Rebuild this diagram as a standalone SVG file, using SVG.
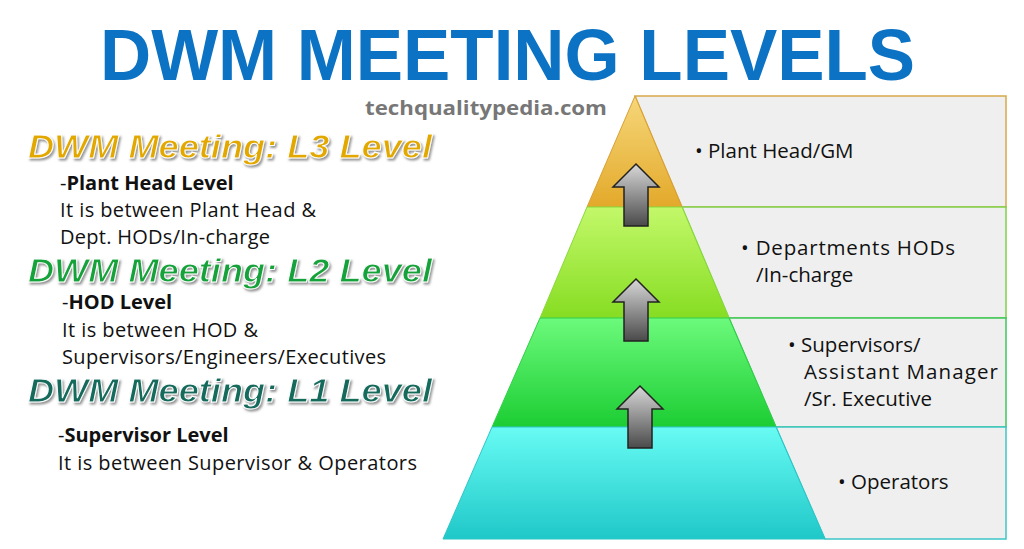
<svg xmlns="http://www.w3.org/2000/svg" width="1024" height="549" viewBox="0 0 1024 549">
<style>
.t{font-family:"Liberation Sans",Arial,sans-serif;font-weight:bold}
.h{font-family:"Liberation Sans",Arial,sans-serif;font-weight:bold;font-style:italic;font-size:34px;stroke:#fff;stroke-width:1;filter:url(#sh)}
.b{font-family:"Open Sans","Noto Sans",sans-serif;font-size:20px;fill:#111}
.r{font-family:"Open Sans","Noto Sans",sans-serif;font-size:20.5px;fill:#111}
.box{fill:#efefef}
</style>
<defs>
<filter id="sh" x="-5%" y="-20%" width="110%" height="150%"><feDropShadow dx="1.5" dy="2" stdDeviation="1.2" flood-color="#777" flood-opacity="0.8"/></filter>
<linearGradient id="g1" x1="0" y1="0" x2="0" y2="1"><stop offset="0" stop-color="#f6d77a"/><stop offset="1" stop-color="#e3a92a"/></linearGradient>
<linearGradient id="g2" x1="0" y1="0" x2="0" y2="1"><stop offset="0" stop-color="#c3f86a"/><stop offset="1" stop-color="#86dd22"/></linearGradient>
<linearGradient id="g3" x1="0" y1="0" x2="0" y2="1"><stop offset="0" stop-color="#6cfa7c"/><stop offset="1" stop-color="#1ccd33"/></linearGradient>
<linearGradient id="g4" x1="0" y1="0" x2="0" y2="1"><stop offset="0" stop-color="#68fbf4"/><stop offset="1" stop-color="#1fc8c8"/></linearGradient>
<linearGradient id="ga" x1="0" y1="0" x2="0" y2="1"><stop offset="0" stop-color="#d8d8d8"/><stop offset="1" stop-color="#4a4a4a"/></linearGradient>
<path id="arr" d="M0,0 L23,23 L12,23 L12,62 L-12,62 L-12,23 L-23,23 Z" fill="url(#ga)" stroke="#222" stroke-width="1.5"/>
</defs>
<rect width="1024" height="549" fill="#fff"/>
<text class="t" x="100" y="80" font-size="72" fill="#0b72c4" textLength="815" lengthAdjust="spacingAndGlyphs">DWM MEETING LEVELS</text>
<text x="365" y="115" font-family="'Open Sans','Noto Sans',sans-serif" font-weight="bold" font-size="20" fill="#777" textLength="242" lengthAdjust="spacingAndGlyphs">techqualitypedia.com</text>

<g id="level3-text">
<text class="h" x="28" y="158" fill="#e3a800" textLength="404" lengthAdjust="spacingAndGlyphs">DWM Meeting: L3 Level</text>
<text class="b" x="60" y="190">-<tspan font-weight="bold">Plant Head Level</tspan></text>
<text class="b" x="60" y="217" textLength="256">It is between Plant Head &amp;</text>
<text class="b" x="60" y="244" textLength="210">Dept. HODs/In-charge</text>
</g>
<g id="level2-text">
<text class="h" x="28" y="282" fill="#17a23a" textLength="404" lengthAdjust="spacingAndGlyphs">DWM Meeting: L2 Level</text>
<text class="b" x="62" y="309">-<tspan font-weight="bold">HOD Level</tspan></text>
<text class="b" x="62" y="337" textLength="196">It is between HOD &amp;</text>
<text class="b" x="62" y="364" textLength="324">Supervisors/Engineers/Executives</text>
</g>
<g id="level1-text">
<text class="h" x="28" y="402" fill="#136a5c" textLength="404" lengthAdjust="spacingAndGlyphs">DWM Meeting: L1 Level</text>
<text class="b" x="58" y="442">-<tspan font-weight="bold">Supervisor Level</tspan></text>
<text class="b" x="58" y="470" textLength="359">It is between Supervisor &amp; Operators</text>
</g>

<g id="box-top"><path class="box" d="M635,96 L1006,96 L1006,207 L682,207 Z" stroke="#d7a948" stroke-width="1.5"/>
<text class="r" x="695" y="158">• Plant Head/GM</text></g>
<g id="box-l2"><path class="box" d="M682,207 L1006,207 L1006,318 L729,318 Z" stroke="#7fd24a" stroke-width="1.5"/>
<text class="r" x="741" y="255" textLength="214">• Departments HODs</text><text class="r" x="756" y="282">/In-charge</text></g>
<g id="box-l1"><path class="box" d="M729,318 L1006,318 L1006,427 L776,427 Z" stroke="#3dc65a" stroke-width="1.5"/>
<text class="r" x="788" y="352">• Supervisors/</text><text class="r" x="804" y="379" textLength="194">Assistant Manager</text><text class="r" x="804" y="406">/Sr. Executive</text></g>
<g id="box-op"><path class="box" d="M776,427 L1006,427 L1006,539 L825,539 Z" stroke="#3cc6c6" stroke-width="1.5"/>
<text class="r" x="838" y="489">• Operators</text></g>

<g id="tier-top"><path d="M635,96 L682,207 L587,207 Z" fill="url(#g1)" stroke="#d9a032"/></g>
<g id="tier-l2"><path d="M587,207 L682,207 L729,318 L540,318 Z" fill="url(#g2)" stroke="#8ad83a"/></g>
<g id="tier-l1"><path d="M540,318 L729,318 L776,427 L492,427 Z" fill="url(#g3)" stroke="#2fcf48"/></g>
<g id="tier-op"><path d="M492,427 L776,427 L825,539 L443,539 Z" fill="url(#g4)" stroke="#2cc6c6"/></g>

<g id="connectors">
<use href="#arr" x="636" y="164"/>
<use href="#arr" x="636" y="279"/>
<use href="#arr" x="640" y="386"/>
</g>
</svg>
